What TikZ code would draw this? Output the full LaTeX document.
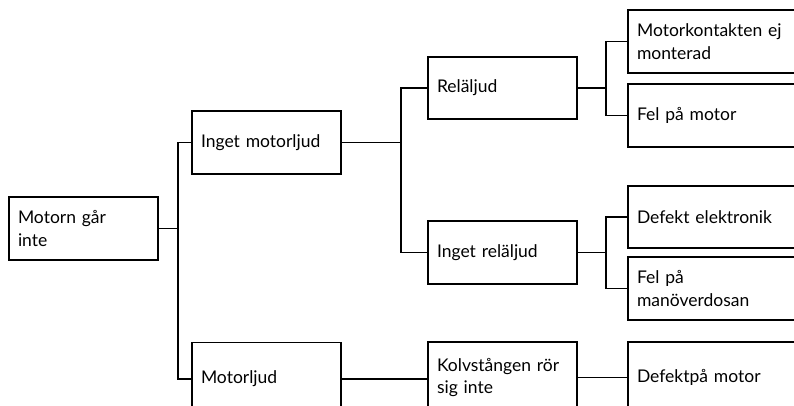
\documentclass[tikz,border=0pt]{standalone}
\usepackage{fontspec}
\setmainfont{Lato}
\usepackage{tikz}
\usetikzlibrary{positioning,calc}

\tikzset{
    box/.style={draw, rectangle, line width=1.7pt, inner xsep=9pt, inner ysep=0pt,
        text width=#1, align=left, minimum height=63pt,
        font=\fontsize{17.5}{22.5}\selectfont},
    box/.default=131pt,
    link/.style={line width=1.6pt}
}

\begin{document}
\begin{tikzpicture}[x=1pt, y=-1pt]
    \useasboundingbox (0,0) rectangle (794,405);
    \clip (0,0) rectangle (794,405);

    % Root
    \node[box] (root) at (83.5,228.5) {Motorn går\\inte};

    % Second level
    \node[box] (nomotor) at (266.5,142.5) {Inget motorljud};
    \node[box, minimum height=73pt] (motor) at (266.5,379) {Motorljud};

    % Third level
    \node[box, minimum height=62pt] (relay) at (502.5,88) {Reläljud};
    \node[box] (norelay) at (502.5,252.5) {Inget reläljud};
    \node[box, minimum height=71pt] (piston) at (502.5,377.5) {Kolvstången rör\\sig inte};

    % Causes
    \node[box=162pt] (contact) at (718,41.5) {Motorkontakten ej\\monterad};
    \node[box=162pt] (motorfault) at (718,115.5) {Fel på motor};
    \node[box=162pt, minimum height=62pt] (electronics) at (718,217) {Defekt elektronik};
    \node[box=162pt] (controlbox) at (718,288.5) {Fel på\\manöverdosan};
    \node[box=162pt, minimum height=71pt] (motordefect) at (718,377.5) {Defektpå motor};

    % Connectors
    \draw[link] (root.east) -- ++(19,0) coordinate (j1);
    \draw[link] (j1) |- (nomotor.west);
    \draw[link] (j1) |- (motor.west);

    \draw[link] (nomotor.east) -- ++(59,0) coordinate (j2);
    \draw[link] (j2) |- (relay.west);
    \draw[link] (j2) |- (norelay.west);

    \draw[link] (relay.east) -- ++(28,0) coordinate (j3);
    \draw[link] (j3) |- (contact.west);
    \draw[link] (j3) |- (motorfault.west);

    \draw[link] (norelay.east) -- ++(28,0) coordinate (j4);
    \draw[link] (j4) |- (electronics.west);
    \draw[link] (j4) |- (controlbox.west);

    \draw[link] (motor.east) -- (motor.east -| piston.west);
    \draw[link] (piston.east) -- (motordefect.west);
\end{tikzpicture}
\end{document}
